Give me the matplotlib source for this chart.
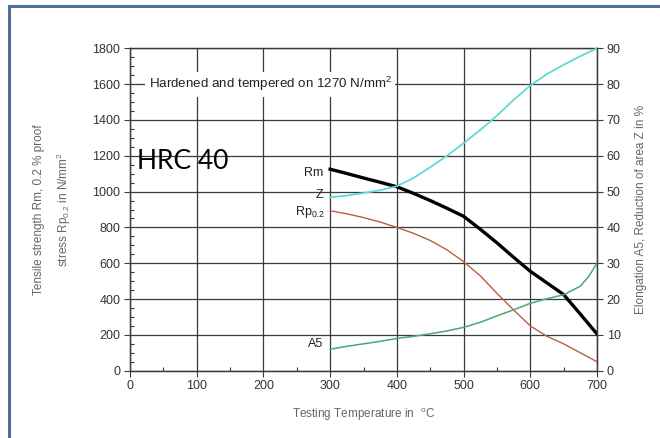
import matplotlib
matplotlib.use("Agg")
import matplotlib.pyplot as plt
from matplotlib.lines import Line2D
from matplotlib.ticker import MultipleLocator

plt.rcParams['font.family'] = ['Liberation Sans', 'DejaVu Sans']

# Data
temp_rm = [300, 325, 350, 375, 400, 425, 450, 475, 500, 525, 550, 575, 600, 625, 650, 675, 700]
rm = [1125, 1101, 1076, 1052, 1027, 990, 950, 907, 862, 790, 714, 633, 555, 490, 425, 316, 205]

temp_rp = [300, 325, 350, 375, 400, 425, 450, 475, 500, 525, 550, 575, 600, 625, 650, 675, 700]
rp02 = [893, 876, 855, 830, 800, 767, 727, 675, 609, 530, 432, 339, 250, 192, 150, 100, 50]

temp_z = [300, 325, 350, 375, 400, 425, 450, 475, 500, 525, 550, 575, 600, 625, 650, 675, 700]
z = [48.4, 48.9, 49.6, 50.4, 51.5, 53.8, 56.8, 60, 63.5, 67.2, 71.2, 75.6, 79.6, 82.8, 85.4, 87.8, 90]

temp_a5 = [300, 325, 350, 375, 400, 425, 450, 475, 500, 525, 550, 575, 600, 625, 650, 675, 687.5, 700]
a5 = [6, 6.8, 7.5, 8.2, 9, 9.6, 10.3, 11.1, 12.1, 13.5, 15.3, 17, 18.8, 20.1, 21.2, 23.6, 26.3, 30]

x_ticks = [0, 100, 200, 300, 400, 500, 600, 700]
y_left_ticks = [0, 200, 400, 600, 800, 1000, 1200, 1400, 1600, 1800]
y_right_ticks = [0, 10, 20, 30, 40, 50, 60, 70, 80, 90]

fig = plt.figure(figsize=(6.6, 4.38), dpi=100)
ax = fig.add_axes([130/660, 1-370.7/438, (597-130)/660, (370.7-48.3)/438])
ax2 = ax.twinx()

grid_c = '#3a3a3a'
tick_c = '#333333'
lab_c = '#666666'

ax.set_xlim(0, 700)
ax.set_ylim(0, 1800)
ax2.set_ylim(0, 90)
ax.set_xticks(x_ticks)
ax.set_yticks(y_left_ticks)
ax2.set_yticks(y_right_ticks)
ax.xaxis.set_minor_locator(MultipleLocator(50))
ax.yaxis.set_minor_locator(MultipleLocator(50))
ax.grid(True, which='major', color=grid_c, linewidth=0.9)
ax.set_axisbelow(True)

for a in (ax, ax2):
    for s in a.spines.values():
        s.set_color(grid_c)
        s.set_linewidth(0.9)

ax.tick_params(axis='both', which='major', direction='out', length=4, width=0.8,
               color=grid_c, labelsize=9, labelcolor=tick_c, pad=3)
ax.tick_params(axis='both', which='minor', direction='in', length=3, width=0.8, color=grid_c)
ax2.tick_params(axis='y', which='major', direction='out', length=4, width=0.8,
                color=grid_c, labelsize=9, labelcolor=tick_c, pad=3)

ax.plot(temp_rm, rm, color='black', linewidth=2.4, zorder=5, solid_joinstyle='round')
ax.plot(temp_rp, rp02, color='#b5623c', linewidth=1.0, zorder=4)
ax2.plot(temp_z, z, color='#5ddbd6', linewidth=1.3, zorder=4)
ax2.plot(temp_a5, a5, color='#4aa67c', linewidth=1.1, zorder=4)

# Curve labels
lab_kw = dict(ha='right', va='center', fontsize=9, color='#222222')
ax.text(290, 1104, 'Rm', **lab_kw)
ax.text(290, 981, 'Z', **lab_kw)
ax.text(292, 886, r'Rp$\mathregular{_{0.2}}$', **lab_kw)
ax.text(290, 149, 'A5', **lab_kw)

# Annotation
ax.text(28, 1600, 'Hardened and tempered on 1270 N/mm$^{\\mathregular{2}}$', ha='left', va='center',
        fontsize=9.6, color='#222222',
        bbox=dict(facecolor='white', edgecolor='none', pad=2.5), zorder=6)

ax.text(10, 1170, 'HRC 40', ha='left', va='center', fontsize=19, color='black',
        family=['Lato', 'DejaVu Sans'], zorder=6)

ax.set_xlabel('Testing Temperature in  $^{\\mathregular{o}}$C', fontsize=8.5, color=lab_c, labelpad=10)
ax.set_ylabel('Tensile strength Rm, 0.2 % proof\nstress Rp$\\mathregular{_{0.2}}$ in N/mm$^{\\mathregular{2}}$',
              fontsize=8.5, color=lab_c, labelpad=14, linespacing=1.7)
ax2.set_ylabel('Elongation A5, Reduction of area Z in %', fontsize=8.5, color=lab_c, labelpad=10)

# Figure frame (top and left)
frame_c = '#4e7099'
fig.add_artist(Line2D([8.5/660, 1], [1-6/438, 1-6/438], transform=fig.transFigure,
                      color=frame_c, linewidth=2.2))
fig.add_artist(Line2D([8.5/660, 8.5/660], [0, 1-6/438], transform=fig.transFigure,
                      color=frame_c, linewidth=2.2))

fig.savefig('out.png', dpi=100)
